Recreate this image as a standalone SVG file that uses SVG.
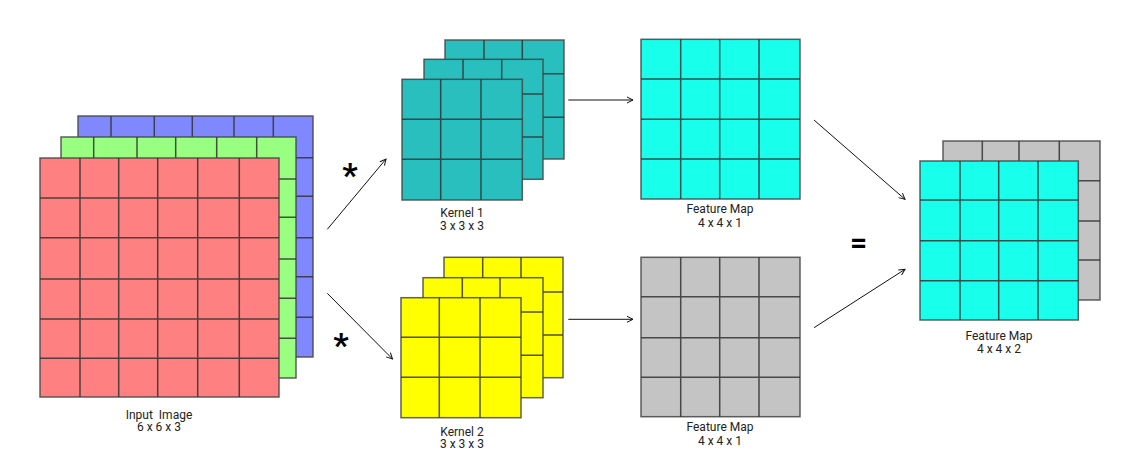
<svg xmlns="http://www.w3.org/2000/svg" width="1143" height="462" viewBox="0 0 1143 462">
<defs>
<style>
.g{stroke:#333;stroke-opacity:0.85;stroke-width:1.5;fill:none}
.b{stroke:#444;stroke-opacity:0.85;stroke-width:1.5}
.t{font-family:Roboto,"Liberation Sans",sans-serif;font-size:12px;fill:#222;text-anchor:middle}
.c{stroke:#111;stroke-width:1;fill:none}
.s{font-family:Roboto,"Liberation Sans",sans-serif;font-weight:bold;fill:#000;text-anchor:middle}
</style>
<marker id="ah" viewBox="0 0 8 8" refX="7" refY="4" markerWidth="8" markerHeight="8" markerUnits="userSpaceOnUse" orient="auto">
<path d="M1,1 L7,4 L1,7" fill="none" stroke="#111" stroke-width="1"/>
</marker>
</defs>
<rect width="1143" height="462" fill="#fff"/>

<g id="input-image">
<rect class="b" x="78" y="116" width="235" height="241" fill="#8088FF"/>
<path class="g" d="M111,116V357M154.3,116V357M192.3,116V357M234,116V357M273.3,116V357M78,157.7H313M78,196.3H313M78,237.7H313M78,276.7H313M78,317.3H313"/>
<rect class="b" x="61" y="137" width="235" height="241" fill="#98FF80"/>
<path class="g" d="M93.7,137V378M137,137V378M175.7,137V378M216.7,137V378M256.7,137V378M61,179H296M61,217.3H296M61,259H296M61,298.3H296M61,338.3H296"/>
<rect class="b" x="40" y="158" width="239" height="239" fill="#FF8080"/>
<path class="g" d="M80,158V397M118.7,158V397M157.7,158V397M197.7,158V397M239.3,158V397M40,198H279M40,237.7H279M40,279H279M40,319H279M40,358.3H279"/>
<text class="t" x="159" y="418.5">Input&#160; Image</text>
<text class="t" x="159" y="431">6 x 6 x 3</text>
</g>

<g id="kernel-1">
<rect class="b" x="445" y="40" width="119" height="119" fill="#29BFBF"/>
<path class="g" d="M484,40V159M522.3,40V159M445,73.7H564M445,117.3H564"/>
<rect class="b" x="424" y="59.3" width="119" height="120" fill="#29BFBF"/>
<path class="g" d="M463,59.3V179.3M501.7,59.3V179.3M424,94H543M424,137H543"/>
<rect class="b" x="402" y="79.3" width="120.3" height="120.7" fill="#29BFBF"/>
<path class="g" d="M440.7,79.3V200M481,79.3V200M402,119.3H522.3M402,159.3H522.3"/>
<text class="t" x="462" y="217">Kernel 1</text>
<text class="t" x="462" y="229.5">3 x 3 x 3</text>
</g>

<g id="kernel-2">
<rect class="b" x="444" y="257.3" width="119" height="120.4" fill="#FFFF00"/>
<path class="g" d="M482.7,257.3V377.7M521,257.3V377.7M444,292H563M444,335H563"/>
<rect class="b" x="423" y="277.7" width="120" height="120" fill="#FFFF00"/>
<path class="g" d="M462.3,277.7V397.7M500,277.7V397.7M423,312H543M423,355.3H543"/>
<rect class="b" x="401" y="297.7" width="120" height="120" fill="#FFFF00"/>
<path class="g" d="M439.3,297.7V417.7M480,297.7V417.7M401,337.3H521M401,377.3H521"/>
<text class="t" x="462" y="435.5">Kernel 2</text>
<text class="t" x="462" y="448">3 x 3 x 3</text>
</g>

<g id="feature-map-1">
<rect class="b" x="641" y="39.3" width="159" height="159.7" fill="#18FFEC"/>
<path class="g" d="M680.7,39.3V199M719.7,39.3V199M759,39.3V199M641,79H800M641,119.3H800M641,159H800"/>
<text class="t" x="720" y="213">Feature Map</text>
<text class="t" x="720" y="227">4 x 4 x 1</text>
</g>

<g id="feature-map-2">
<rect class="b" x="641" y="257.3" width="159" height="159.4" fill="#C4C4C4"/>
<path class="g" d="M680.7,257.3V416.7M719.7,257.3V416.7M759,257.3V416.7M641,296.7H800M641,337.7H800M641,377.3H800"/>
<text class="t" x="720" y="430.5">Feature Map</text>
<text class="t" x="720" y="444.5">4 x 4 x 1</text>
</g>

<g id="output-feature-map">
<rect class="b" x="943" y="141" width="157" height="159" fill="#C4C4C4"/>
<path class="g" d="M982.3,141V300M1019,141V300M1059.3,141V300M943,180.7H1100M943,221H1100M943,260H1100"/>
<rect class="b" x="920" y="161" width="158.3" height="159" fill="#18FFEC"/>
<path class="g" d="M960,161V320M998.7,161V320M1038,161V320M920,200H1078.3M920,240.7H1078.3M920,280.7H1078.3"/>
<text class="t" x="999" y="340">Feature Map</text>
<text class="t" x="999" y="353">4 x 4 x 2</text>
</g>

<g id="operators">
<text class="s" x="350" y="187" font-size="34">*</text>
<text class="s" x="341" y="357" font-size="34">*</text>
<text class="s" x="858.5" y="253" font-size="30">=</text>
</g>

<g id="connectors">
<line class="c" x1="327.3" y1="229.3" x2="386" y2="159" marker-end="url(#ah)"/>
<line class="c" x1="327.3" y1="293.3" x2="392.5" y2="359" marker-end="url(#ah)"/>
<line class="c" x1="568.3" y1="100" x2="633" y2="100" stroke="#555" marker-end="url(#ah)"/>
<line class="c" x1="568.3" y1="319.3" x2="633" y2="319.3" stroke="#555" marker-end="url(#ah)"/>
<line class="c" x1="814" y1="120" x2="905" y2="199.3" marker-end="url(#ah)"/>
<line class="c" x1="814" y1="327.7" x2="905" y2="269.3" marker-end="url(#ah)"/>
</g>
</svg>
